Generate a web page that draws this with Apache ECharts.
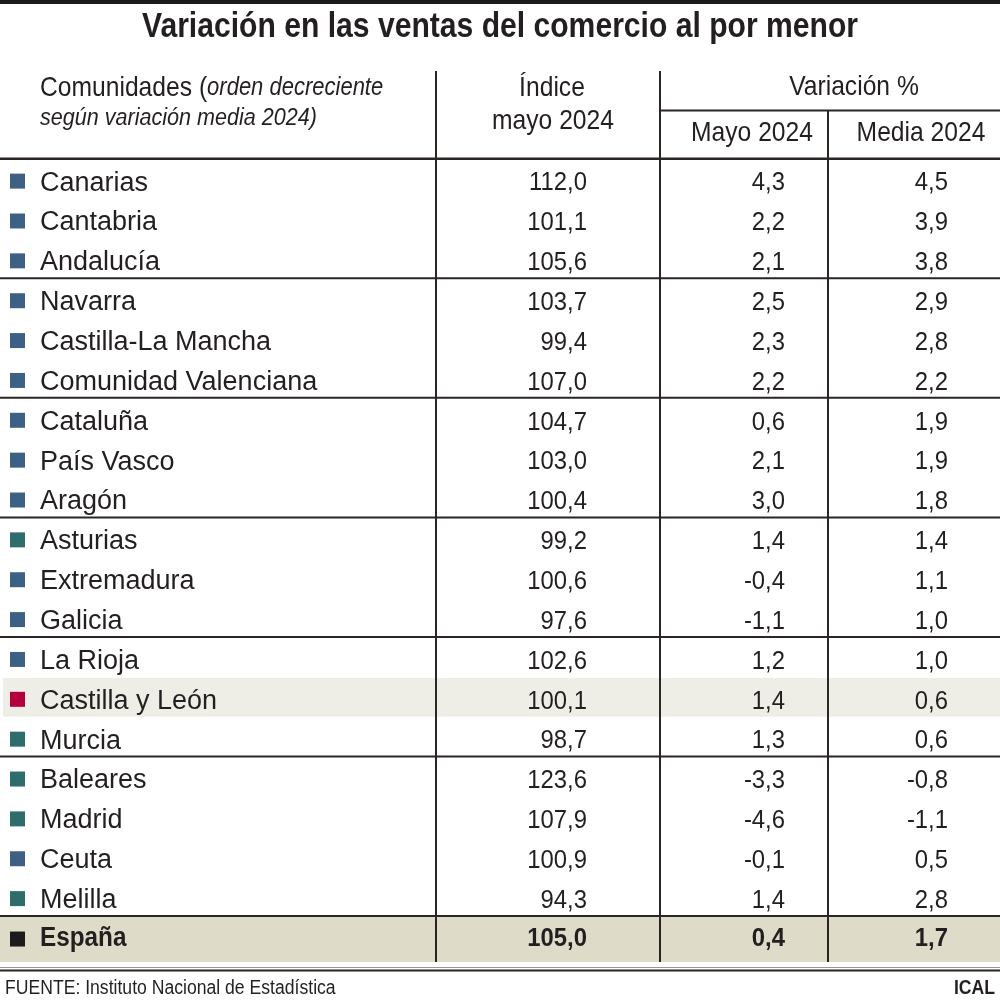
<!DOCTYPE html>
<html><head><meta charset="utf-8">
<script src="https://cdn.jsdelivr.net/npm/echarts@6/dist/echarts.min.js"></script>
<style>html,body{margin:0;padding:0;background:#fff}#c{width:1000px;height:1003px}</style>
</head><body><div id="c"></div><script>
// ---- data ----
const comunidades = ['Canarias','Cantabria','Andalucía','Navarra','Castilla-La Mancha','Comunidad Valenciana','Cataluña','País Vasco','Aragón','Asturias','Extremadura','Galicia','La Rioja','Castilla y León','Murcia','Baleares','Madrid','Ceuta','Melilla','España'];
const indiceMayo2024 = [112.0,101.1,105.6,103.7,99.4,107.0,104.7,103.0,100.4,99.2,100.6,97.6,102.6,100.1,98.7,123.6,107.9,100.9,94.3,105.0];
const variacionMayo2024 = [4.3,2.2,2.1,2.5,2.3,2.2,0.6,2.1,3.0,1.4,-0.4,-1.1,1.2,1.4,1.3,-3.3,-4.6,-0.1,1.4,0.4];
const variacionMedia2024 = [4.5,3.9,3.8,2.9,2.8,2.2,1.9,1.9,1.8,1.4,1.1,1.0,1.0,0.6,0.6,-0.8,-1.1,0.5,2.8,1.7];
const tipoMarcador = ['a','a','a','a','a','a','a','a','a','b','a','a','a','cyl','b','b','b','a','b','total'];
const inicioGrupo = [3,6,9,12,15,19];

// ---- layout / style ----
const FONT = "'Liberation Sans', Arial, sans-serif";
const INK = '#231f20';
const LINE = '#2b2624';
const MARK_COLORS = {a:'#3d6185', b:'#2f6d6c', cyl:'#b4003c', total:'#1c1a1a'};
const X_LINES = [436, 660, 828];
const X_MARK = 10, MARK = 15, X_NAME = 40, X_IDX = 587, X_MAY = 785, X_MED = 948;
const TOP = 158.7, ROWH = 39.86, TOTH = 46;
const NUM_SCALE = 0.9;
const nRows = comunidades.length;
const fmt = v => v.toFixed(1).replace('.', ',');

const data = comunidades.map((c, i) => [i, indiceMayo2024[i], variacionMayo2024[i], variacionMedia2024[i]]);

function sText(text, x, y, align, font, sx) {
  return {type:'text', x, y, scaleX:sx, style:{text, x:0, y:0, align, verticalAlign:'middle', font, fill:INK}};
}

function renderItem(params, api) {
  const i = api.value(0);
  const kind = tipoMarcador[i];
  const isTot = kind === 'total';
  const span = isTot ? TOTH / ROWH : 1;
  const p0 = api.coord([0, i]);
  const p1 = api.coord([1000, i + span]);
  const x0 = p0[0], y0 = p0[1], x1 = p1[0], y1 = p1[1];
  const xs = v => api.coord([v, i])[0];
  const cy = (y0 + y1) / 2 + (isTot ? 0 : 2.5);
  const ty = cy + (isTot ? 0 : 2);
  const ch = [];
  if (kind === 'cyl') ch.push({type:'rect', shape:{x:xs(3), y:y0+1, width:x1-xs(3), height:y1-y0-1}, style:{fill:'#efeee6'}});
  if (isTot) ch.push({type:'rect', shape:{x:x0, y:y0, width:x1-x0, height:y1-y0}, style:{fill:'#dedcc8'}});
  ch.push({type:'rect', shape:{x:xs(X_MARK), y:cy-MARK/2, width:MARK, height:MARK}, style:{fill:MARK_COLORS[kind]}});
  const fw = isTot ? 'bold' : 'normal';
  ch.push(sText(comunidades[i], xs(X_NAME), ty, 'left', fw+' 27px '+FONT, isTot ? 0.9 : 1));
  ch.push(sText(fmt(api.value(1)), xs(X_IDX), ty, 'right', fw+' 26.5px '+FONT, NUM_SCALE));
  ch.push(sText(fmt(api.value(2)), xs(X_MAY), ty, 'right', fw+' 26.5px '+FONT, NUM_SCALE));
  ch.push(sText(fmt(api.value(3)), xs(X_MED), ty, 'right', fw+' 26.5px '+FONT, NUM_SCALE));
  X_LINES.forEach(xv => ch.push({type:'line', shape:{x1:xs(xv), y1:y0-1, x2:xs(xv), y2:y1+ (isTot ? 0 : 1)}, style:{stroke:LINE, lineWidth:2}}));
  if (inicioGrupo.indexOf(i) >= 0) ch.push({type:'line', shape:{x1:x0, y1:y0, x2:x1, y2:y0}, style:{stroke:LINE, lineWidth:2}});
  return {type:'group', children: ch};
}

const hdr = (text, x, y, align, size, sx, weight) => ({type:'text', x, y, scaleX:sx, style:{text, x:0, y:0, align, verticalAlign:'middle', font:(weight||'normal')+' '+size+'px '+FONT, fill:INK}});

const chart = echarts.init(document.getElementById('c'), null, {renderer:'canvas'});
chart.setOption({
  animation:false,
  backgroundColor:'#fff',
  grid:{left:0, right:0, top:TOP, height: (nRows-1)*ROWH + TOTH},
  xAxis:{type:'value', min:0, max:1000, show:false},
  yAxis:{type:'value', min:0, max:(nRows-1) + TOTH/ROWH, inverse:true, show:false},
  series:[{type:'custom', renderItem, data, clip:false}],
  graphic:[
    {type:'rect', shape:{x:0, y:0, width:1000, height:4}, style:{fill:'#1c1a1a'}},
    hdr('Variación en las ventas del comercio al por menor', 500, 27, 'center', 35, 0.86, 'bold'),
    {type:'line', shape:{x1:X_LINES[0], y1:71, x2:X_LINES[0], y2:TOP}, style:{stroke:LINE, lineWidth:2}},
    {type:'line', shape:{x1:X_LINES[1], y1:71, x2:X_LINES[1], y2:TOP}, style:{stroke:LINE, lineWidth:2}},
    {type:'line', shape:{x1:X_LINES[2], y1:110.5, x2:X_LINES[2], y2:TOP}, style:{stroke:LINE, lineWidth:2}},
    {type:'line', shape:{x1:X_LINES[1], y1:110.5, x2:1000, y2:110.5}, style:{stroke:LINE, lineWidth:2}},
    {type:'line', shape:{x1:0, y1:TOP, x2:1000, y2:TOP}, style:{stroke:LINE, lineWidth:2.5}},
    {type:'text', x:40, y:88, scaleX:0.88, style:{text:'{r|Comunidades (}{i|orden decreciente}', x:0, y:0, align:'left', verticalAlign:'middle', rich:{r:{font:'normal 28px '+FONT, fill:INK}, i:{font:'italic 25px '+FONT, fill:INK}}}},
    hdr('según variación media 2024)', 40, 118, 'left', 24.5, 0.88, 'italic'),
    hdr('Índice', 552, 88, 'center', 28, 0.88),
    hdr('mayo 2024', 553, 121, 'center', 28, 0.88),
    hdr('Variación %', 854, 87, 'center', 28, 0.88),
    hdr('Mayo 2024', 752, 133, 'center', 28, 0.88),
    hdr('Media 2024', 921, 133, 'center', 28, 0.88),
    {type:'line', shape:{x1:0, y1:967.5, x2:1000, y2:967.5}, style:{stroke:'#9a9694', lineWidth:1}},
    {type:'line', shape:{x1:0, y1:970.5, x2:1000, y2:970.5}, style:{stroke:LINE, lineWidth:2}},
    hdr('FUENTE: Instituto Nacional de Estadística', 5, 988.5, 'left', 20, 0.88),
    hdr('ICAL', 995, 988.5, 'right', 20, 0.88, 'bold')
  ]
});
</script></body></html>
